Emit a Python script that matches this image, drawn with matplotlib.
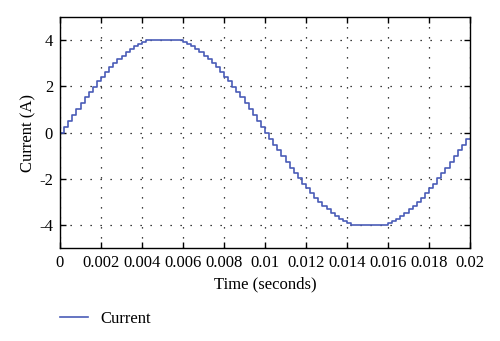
import numpy as np
import matplotlib
matplotlib.use('Agg')
import matplotlib.pyplot as plt
from matplotlib.ticker import FormatStrFormatter

# stepped current samples, one every 0.2 ms over one 50 Hz period
current = [0.00, 0.26, 0.52, 0.77, 1.03, 1.27, 1.52, 1.75, 1.99, 2.21,
           2.42, 2.63, 2.82, 3.00, 3.17, 3.33, 3.48, 3.61, 3.73, 3.83,
           3.92, 3.99, 4.00, 4.00, 4.00, 4.00, 4.00, 4.00, 4.00, 3.99,
           3.92, 3.83, 3.73, 3.61, 3.48, 3.33, 3.17, 3.00, 2.82, 2.63,
           2.42, 2.21, 1.99, 1.75, 1.52, 1.27, 1.03, 0.77, 0.52, 0.26,
           0.00, -0.26, -0.52, -0.77, -1.03, -1.27, -1.52, -1.75, -1.99, -2.21,
           -2.42, -2.63, -2.82, -3.00, -3.17, -3.33, -3.48, -3.61, -3.73, -3.83,
           -3.92, -3.99, -4.00, -4.00, -4.00, -4.00, -4.00, -4.00, -4.00, -3.99,
           -3.92, -3.83, -3.73, -3.61, -3.48, -3.33, -3.17, -3.00, -2.82, -2.63,
           -2.42, -2.21, -1.99, -1.75, -1.52, -1.27, -1.03, -0.77, -0.52, -0.26,
           -0.26]
time = np.linspace(0, 0.02, len(current))

x_ticks = [0, 0.002, 0.004, 0.006, 0.008, 0.01, 0.012, 0.014, 0.016, 0.018, 0.02]
y_ticks = [-4, -2, 0, 2, 4]

plt.rcParams['font.family'] = ['Liberation Serif', 'DejaVu Serif']
plt.rcParams['font.size'] = 12
plt.rcParams['axes.unicode_minus'] = False

fig = plt.figure(figsize=(5.0, 3.41), dpi=100)
ax = fig.add_axes([0.12, 0.2727, 0.82, 0.6773])

line, = ax.plot(time, current, drawstyle='steps-post', color='#4a5cb8', lw=1.2, label='Current')

ax.set_xlim(0, 0.02)
ax.set_ylim(-5, 5)
ax.set_xticks(x_ticks)
ax.set_yticks(y_ticks)
ax.xaxis.set_major_formatter(FormatStrFormatter('%g'))
ax.tick_params(direction='in', length=4, width=1, top=True, right=True, labelsize=12, pad=5)
ax.grid(True, color='black', lw=0.9, linestyle=(0, (1, 7)))
for s in ax.spines.values():
    s.set_linewidth(1)

ax.set_xlabel('Time (seconds)', fontsize=12, labelpad=4)
ax.set_ylabel('Current (A)', fontsize=12, labelpad=2)

fig.legend(handles=[line], loc='center left', bbox_to_anchor=(0.09, 0.065),
           frameon=False, fontsize=12, handlelength=1.7, handletextpad=0.7)

fig.savefig('out.png', dpi=100)
